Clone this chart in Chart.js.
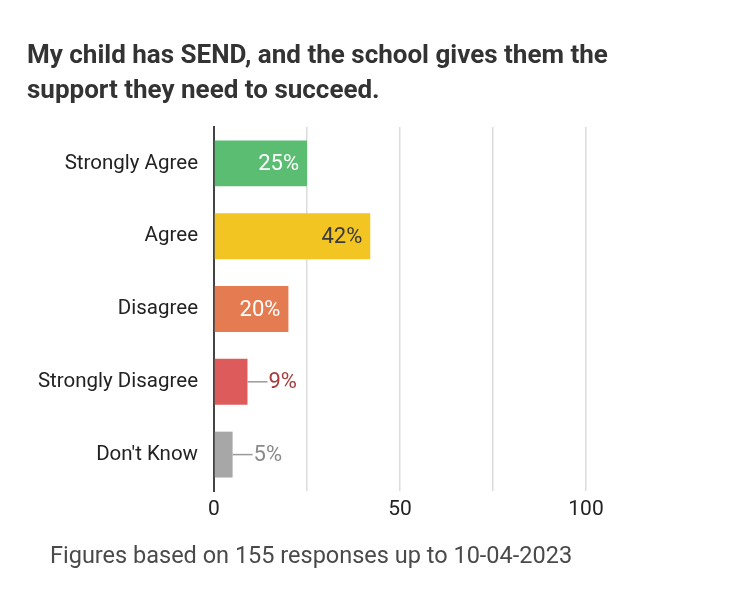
<!DOCTYPE html>
<html>
<head>
<meta charset="utf-8">
<script src="https://cdn.jsdelivr.net/npm/chart.js@4.4.1/dist/chart.umd.min.js"></script>
<style>
  html, body { margin: 0; padding: 0; background: #fff; }
  #wrap { width: 730px; height: 600px; }
</style>
</head>
<body>
<div id="wrap"><canvas id="sendChart" width="730" height="600"></canvas></div>
<script>
const categories = ['Strongly Agree', 'Agree', 'Disagree', 'Strongly Disagree', "Don't Know"];
const percentages = [25, 42, 20, 9, 5];
const barColors = ['#5bbd72', '#f2c523', '#e57b51', '#de5b5b', '#a7a7a7'];
const labelColors = ['#ffffff', '#3a3a3a', '#ffffff', '#a53d3d', '#8a8a8a'];
const titleLines = ['My child has SEND, and the school gives them the', 'support they need to succeed.'];
const footerText = 'Figures based on 155 responses up to 10-04-2023';

const FONT = 'Roboto, "Noto Sans", sans-serif';

// Draws the title, the footer note and the value labels on the bars.
const annotations = {
  id: 'annotations',
  afterDraw(chart) {
    const ctx = chart.ctx;
    ctx.save();
    ctx.textBaseline = 'alphabetic';
    ctx.textAlign = 'left';
    ctx.fillStyle = '#333333';
    ctx.font = 'bold 26px ' + FONT;
    titleLines.forEach((line, i) => ctx.fillText(line, 27, 63 + i * 35));

    ctx.fillStyle = '#4a4a4a';
    ctx.font = '23.5px ' + FONT;
    ctx.fillText(footerText, 50, 563);

    const meta = chart.getDatasetMeta(0);
    ctx.font = '22px ' + FONT;
    ctx.textBaseline = 'middle';
    meta.data.forEach((bar, i) => {
      const text = percentages[i] + '%';
      ctx.fillStyle = labelColors[i];
      if (percentages[i] >= 15) {
        ctx.textAlign = 'right';
        ctx.fillText(text, bar.x - 8, bar.y + 1);
      } else {
        ctx.strokeStyle = '#9a9a9a';
        ctx.lineWidth = 1.5;
        ctx.beginPath();
        ctx.moveTo(bar.x, bar.y);
        ctx.lineTo(bar.x + 20, bar.y);
        ctx.stroke();
        ctx.textAlign = 'left';
        ctx.fillText(text, bar.x + 21, bar.y + 1);
      }
    });
    ctx.restore();
  }
};

const ctx = document.getElementById('sendChart').getContext('2d');
new Chart(ctx, {
  type: 'bar',
  data: {
    labels: categories,
    datasets: [{
      data: percentages,
      backgroundColor: barColors,
      borderWidth: 0,
      categoryPercentage: 1,
      barPercentage: 0.63
    }]
  },
  options: {
    indexAxis: 'y',
    responsive: false,
    animation: false,
    layout: { padding: { top: 127, right: 144, bottom: 79, left: 0 } },
    plugins: {
      legend: { display: false },
      tooltip: { enabled: false }
    },
    scales: {
      x: {
        min: 0,
        max: 100,
        afterFit(scale) { scale.height = 30; },
        ticks: {
          stepSize: 25,
          color: '#222222',
          font: { family: FONT, size: 21 },
          padding: 6,
          maxRotation: 0,
          callback: v => (v % 50 === 0 ? v : '')
        },
        grid: { color: '#dcdcdc', lineWidth: 1.5, drawTicks: false },
        border: { display: false }
      },
      y: {
        afterFit(scale) { scale.width = 214; },
        ticks: {
          color: '#222222',
          font: { family: FONT, size: 20.5 },
          padding: 8
        },
        grid: { display: false },
        border: { display: true, color: '#444444', width: 2 }
      }
    }
  },
  plugins: [annotations]
});
</script>
</body>
</html>
